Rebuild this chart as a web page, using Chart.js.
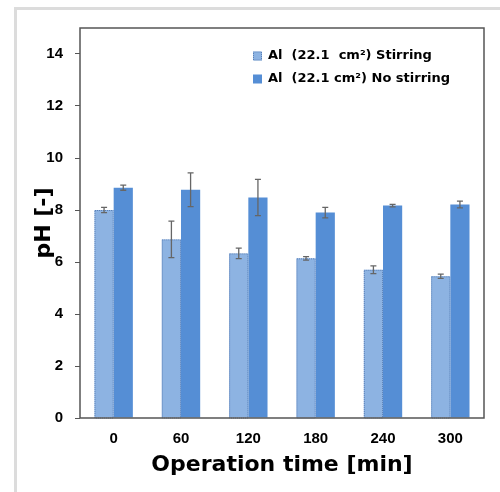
<!DOCTYPE html>
<html>
<head>
<meta charset="utf-8">
<script src="https://cdn.jsdelivr.net/npm/chart.js@4.4.1/dist/chart.umd.min.js"></script>
<style>
  body { margin: 0; background: #fff; }
  #frame { position: absolute; left: 14px; top: 7px; width: 600px; height: 600px; border: 3px solid #dcdcdc; }
  #chart { position: absolute; left: 0; top: 0; }
</style>
</head>
<body>
<div id="frame"></div>
<canvas id="chart" width="500" height="492"></canvas>
<script>
var times = ['0', '60', '120', '180', '240', '300'];
var stirring = [8.0, 6.87, 6.33, 6.14, 5.7, 5.45];
var stirringErr = [0.1, 0.7, 0.2, 0.07, 0.15, 0.08];
var noStirring = [8.86, 8.78, 8.48, 7.9, 8.17, 8.21];
var noStirringErr = [0.1, 0.65, 0.7, 0.2, 0.05, 0.13];
var legendLabels = ['Al  (22.1  cm\u00b2) Stirring', 'Al  (22.1 cm\u00b2) No stirring'];

var lightBlue = '#8db3e2';
var darkBlue = '#558ed5';

var errorBars = {
  id: 'errorBars',
  afterDatasetsDraw: function (chart) {
    var ctx = chart.ctx;
    var yScale = chart.scales.y;
    ctx.save();
    chart.data.datasets.forEach(function (ds, di) {
      var meta = chart.getDatasetMeta(di);
      meta.data.forEach(function (bar, i) {
        if (ds.dotted) {
          ctx.save();
          ctx.strokeStyle = '#5a7fb5';
          ctx.lineWidth = 1;
          ctx.setLineDash([1, 1]);
          ctx.strokeRect(bar.x - bar.width / 2 + 0.5, bar.y + 0.5, bar.width - 1, bar.base - bar.y);
          ctx.restore();
        }
        var v = ds.data[i];
        var e = ds.errors[i];
        var top = yScale.getPixelForValue(v + e);
        var bot = yScale.getPixelForValue(v - e);
        ctx.strokeStyle = '#666';
        ctx.lineWidth = 1.3;
        ctx.beginPath();
        ctx.moveTo(bar.x, top); ctx.lineTo(bar.x, bot);
        ctx.moveTo(bar.x - 3, top); ctx.lineTo(bar.x + 3, top);
        ctx.moveTo(bar.x - 3, bot); ctx.lineTo(bar.x + 3, bot);
        ctx.stroke();
      });
    });
    ctx.restore();
  },
  afterDraw: function (chart) {
    var ctx = chart.ctx;
    var a = chart.chartArea;
    ctx.save();
    ctx.strokeStyle = '#555';
    ctx.lineWidth = 1.5;
    ctx.strokeRect(a.left, a.top, a.right - a.left, a.bottom - a.top);
    // legend inside the plot
    ctx.font = 'bold 13px "DejaVu Sans"';
    ctx.textBaseline = 'middle';
    ctx.fillStyle = '#000';
    chart.data.datasets.forEach(function (ds, di) {
      var y = 56 + di * 23;
      ctx.fillStyle = ds.backgroundColor;
      ctx.fillRect(253, y - 4.5, 9, 9);
      if (ds.dotted) {
        ctx.save();
        ctx.strokeStyle = '#5a7fb5';
        ctx.lineWidth = 1;
        ctx.setLineDash([1, 1]);
        ctx.strokeRect(253.5, y - 4, 8, 8);
        ctx.restore();
      }
      ctx.fillStyle = '#000';
      ctx.fillText(legendLabels[di], 268, y);
    });
    ctx.restore();
  }
};

new Chart(document.getElementById('chart'), {
  type: 'bar',
  data: {
    labels: times,
    datasets: [
      { label: legendLabels[0], data: stirring, errors: stirringErr, dotted: true,
        backgroundColor: lightBlue, borderWidth: 0 },
      { label: legendLabels[1], data: noStirring, errors: noStirringErr,
        backgroundColor: darkBlue, borderWidth: 0 }
    ]
  },
  options: {
    responsive: false,
    devicePixelRatio: 1,
    animation: false,
    layout: { padding: { left: 20, right: 16, top: 28, bottom: 0 } },
    datasets: { bar: { barPercentage: 1, categoryPercentage: 0.57 } },
    plugins: { legend: { display: false }, tooltip: { enabled: false } },
    scales: {
      x: {
        grid: { display: false, drawTicks: false },
        border: { display: false },
        ticks: { color: '#000', padding: 12, font: { family: '"Liberation Sans", Arial', weight: 'bold', size: 15 } },
        title: { display: true, text: 'Operation time [min]', color: '#000', padding: { top: 0, bottom: 14 },
          font: { family: '"DejaVu Sans"', weight: 'bold', size: 22 } },
        afterFit: function (scale) { scale.height = 74; }
      },
      y: {
        min: 0, max: 15,
        grid: { drawOnChartArea: false, drawTicks: true, tickLength: 5, color: '#555' },
        border: { display: false },
        ticks: { stepSize: 2, color: '#000', padding: 12, font: { family: '"Liberation Sans", Arial', weight: 'bold', size: 15 } },
        afterBuildTicks: function (scale) { scale.ticks = scale.ticks.filter(function (t) { return t.value <= 14; }); },
        title: { display: true, text: 'pH [-]', color: '#000', padding: { top: 11, bottom: 0 },
          font: { family: '"DejaVu Sans"', weight: 'bold', size: 22 } },
        afterFit: function (scale) { scale.width = 60; }
      }
    }
  },
  plugins: [errorBars]
});
</script>
</body>
</html>
